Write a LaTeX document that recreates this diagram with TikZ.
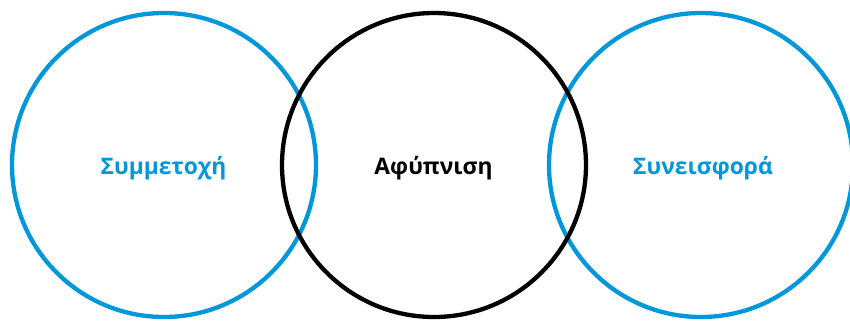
\documentclass[tikz,border=0pt]{standalone}
\usepackage{fontspec}
\setmainfont{Open Sans}
\definecolor{ringblue}{RGB}{0,152,218}
\begin{document}
\begin{tikzpicture}[x=1pt,y=1pt,
  ring/.style={draw, line width=4.3pt},
  lbl/.style={anchor=base, inner sep=0pt, font=\fontsize{22.8}{27}\selectfont\bfseries}]
\useasboundingbox (0,0) rectangle (850,322);
\clip (0,0) rectangle (850,322);
\fill[white] (0,0) rectangle (850,322);
\draw[ring, ringblue] (164,157) circle[radius=152];
\draw[ring, ringblue] (701,157) circle[radius=152];
\draw[ring, black] (434,157) circle[radius=152];
\node[lbl, text=ringblue] (a) at (163.5,148) {Συμμετοχή};
\node[lbl, text=black] (b) at (433.5,148) {Αφύπνιση};
\node[lbl, text=ringblue] (c) at (703,148) {Συνεισφορά};
\end{tikzpicture}
\end{document}
